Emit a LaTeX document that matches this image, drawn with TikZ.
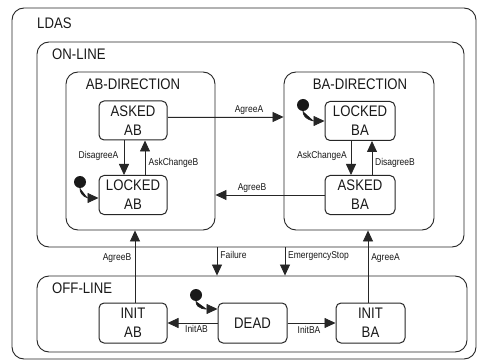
\documentclass[tikz,border=0pt]{standalone}
\usepackage{fontspec}
\setmainfont{Liberation Sans}[FakeStretch=0.86]
\usetikzlibrary{arrows.meta,calc}
\begin{document}
\begin{tikzpicture}[x=1pt,y=-1pt,
  container/.style={draw=black!85, rounded corners=12pt, line width=0.9pt, inner sep=0pt},
  statebox/.style={draw=black!85, rounded corners=5pt, line width=1pt, minimum width=68pt, minimum height=39pt,
    font=\fontsize{15.3}{19}\selectfont, align=center, inner sep=0pt, text=black!90},
  title/.style={font=\fontsize{15.3}{18}\selectfont, inner sep=0pt, text=black!90},
  lbl/.style={font=\fontsize{9.9}{12}\selectfont, inner sep=0pt, text=black!90},
  arr/.style={-{Triangle[length=11pt,width=10pt]}, line width=0.8pt, draw=black!85, fill=black!90},
  initdot/.style={circle, fill=black!90, inner sep=0pt, minimum size=12pt}]
\useasboundingbox (0,0) rectangle (478,363);
\fill[white] (0,0) rectangle (478,363);
% containers
\node[container, minimum width=464pt, minimum height=351pt] (ldas) at (244,183.5) {};
\node[container, minimum width=427pt, minimum height=205pt] (online) at (250.5,144.5) {};
\node[container, minimum width=149pt, minimum height=158pt] (abdir) at (140.5,151) {};
\node[container, minimum width=150pt, minimum height=158pt] (badir) at (359,151) {};
\node[container, minimum width=430pt, minimum height=76pt] (offline) at (252,314) {};
% titles
\node[title, anchor=west] (tldas) at (37,23) {LDAS};
\node[title, anchor=west] (tonline) at (52,54) {ON-LINE};
\node[title] (tabdir) at (133,84) {AB-DIRECTION};
\node[title] (tbadir) at (360,84) {BA-DIRECTION};
\node[title, anchor=west] (toffline) at (52,288) {OFF-LINE};
% states
\node[statebox] (askedab) at (133,120.5) {ASKED\\AB};
\node[statebox] (lockedab) at (133,195) {LOCKED\\AB};
\node[statebox, minimum width=70pt] (lockedba) at (360,121) {LOCKED\\BA};
\node[statebox, minimum width=70pt] (askedba) at (360,195) {ASKED\\BA};
\node[statebox, minimum height=40pt] (initab) at (133,323) {INIT\\AB};
\node[statebox, minimum width=69pt, minimum height=40pt] (dead) at (252.5,323) {DEAD};
\node[statebox, minimum width=69pt, minimum height=40pt] (initba) at (370.5,323) {INIT\\BA};
% initial dots
\node[initdot] (iab) at (80,182) {};
\node[initdot] (iba) at (303,105) {};
\node[initdot] (idead) at (196,295) {};
\draw[arr] (iab.south) .. controls +(0,9) and +(-9,0) .. ($(lockedab.west)+(0,3)$);
\draw[arr] (iba.south) .. controls +(0,9) and +(-9,0) .. (lockedba.west);
\draw[arr] (idead.south) .. controls +(0,9) and +(-9,0) .. ($(dead.west)+(0,-14)$);
% transitions inside
\draw[arr] ($(askedab.east)+(0,-3.5)$) -- ($(askedab.east -| badir.west)+(0,-3.5)$);
\draw[arr] (askedba.west) -- (askedba.west -| abdir.east);
\draw[arr] ($(askedab.south)+(-9,0)$) -- ($(lockedab.north)+(-9,0)$);
\draw[arr] ($(lockedab.north)+(12,0)$) -- ($(askedab.south)+(12,0)$);
\draw[arr] ($(lockedba.south)+(-9,0)$) -- ($(askedba.north)+(-9,0)$);
\draw[arr] ($(askedba.north)+(12,0)$) -- ($(lockedba.south)+(12,0)$);
% between on-line and off-line
\draw[arr] ($(initab.north)+(2,0)$) -- ($(initab.north |- abdir.south)+(2,0)$);
\draw[arr] ($(initba.north)+(-2.5,0)$) -- ($(initba.north |- badir.south)+(-2.5,0)$);
\draw[arr] ($(online.south)+(-33.5,0)$) -- ($(offline.north)+(-35,0)$);
\draw[arr] ($(online.south)+(34.5,0)$) -- ($(offline.north)+(33,0)$);
\draw[arr] (dead.west) -- (initab.east);
\draw[arr] (dead.east) -- (initba.west);
% labels
\node[lbl] (lagreeA) at (249,110) {AgreeA};
\node[lbl] (lagreeB) at (252,188) {AgreeB};
\node[lbl] (ldisA) at (98.5,156) {DisagreeA};
\node[lbl] (laskB) at (173.5,162.5) {AskChangeB};
\node[lbl] (laskA) at (322,156) {AskChangeA};
\node[lbl] (ldisB) at (395,163) {DisagreeB};
\node[lbl] (lagreeB2) at (117,258) {AgreeB};
\node[lbl] (lagreeA2) at (385.5,258) {AgreeA};
\node[lbl] (lfail) at (233.5,255) {Failure};
\node[lbl] (lemerg) at (318.5,256) {EmergencyStop};
\node[lbl] (linitab) at (196.5,329) {InitAB};
\node[lbl] (linitba) at (309,330) {InitBA};
\end{tikzpicture}
\end{document}
